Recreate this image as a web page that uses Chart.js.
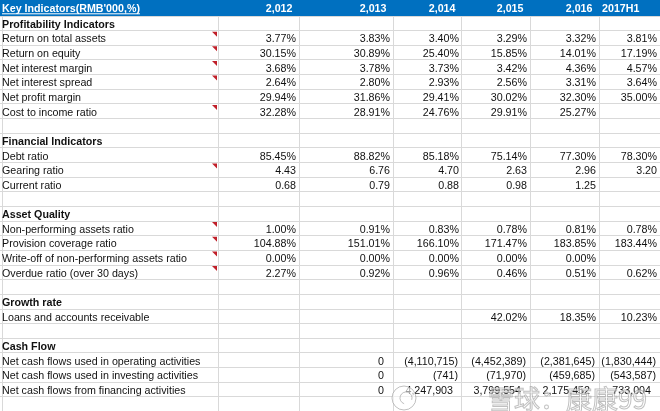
<!DOCTYPE html>
<html>
<head>
<meta charset="utf-8">
<script src="https://cdn.jsdelivr.net/npm/chart.js@4"></script>
<style>
    body { margin: 0; background: #fff; }
    canvas { display: block; }
</style>
</head>
<body>
<canvas id="sheet" width="660" height="411"></canvas>
<script>
// Table data
const title = "Key Indicators(RMB'000,%)";
const years = ['2,012', '2,013', '2,014', '2,015', '2,016', '2017H1'];
const sections = ['Profitability Indicators', 'Financial Indicators', 'Asset Quality', 'Growth rate', 'Cash Flow'];

const returnOnAssets = [3.77, 3.83, 3.40, 3.29, 3.32, 3.81];
const returnOnEquity = [30.15, 30.89, 25.40, 15.85, 14.01, 17.19];
const netInterestMargin = [3.68, 3.78, 3.73, 3.42, 4.36, 4.57];
const netInterestSpread = [2.64, 2.80, 2.93, 2.56, 3.31, 3.64];
const netProfitMargin = [29.94, 31.86, 29.41, 30.02, 32.30, 35.00];
const costToIncome = [32.28, 28.91, 24.76, 29.91, 25.27, null];

const debtRatio = [85.45, 88.82, 85.18, 75.14, 77.30, 78.30];
const gearingRatio = [4.43, 6.76, 4.70, 2.63, 2.96, 3.20];
const currentRatio = [0.68, 0.79, 0.88, 0.98, 1.25, null];

const npaRatio = [1.00, 0.91, 0.83, 0.78, 0.81, 0.78];
const provisionCoverage = [104.88, 151.01, 166.10, 171.47, 183.85, 183.44];
const writeOffRatio = [0.00, 0.00, 0.00, 0.00, 0.00, null];
const overdueRatio = [2.27, 0.92, 0.96, 0.46, 0.51, 0.62];

const loansGrowth = [null, null, null, 42.02, 18.35, 10.23];

const operatingCash = [null, 0, -4110715, -4452389, -2381645, -1830444];
const investingCash = [null, 0, -741, -71970, -459685, -543587];
const financingCash = [null, 0, 4247903, 3799554, 2175452, 733004];

// Sheet layout
const colWidths = [218, 81, 94, 69, 68, 69, 61];
const leftEdge = 2;
const rowH = 14.65, headerH = 16;
const headerBlue = '#0070c0';
const gridGray = '#d9d9d9';
const flagRed = '#c0202a';
const font = "'Liberation Sans', Arial, sans-serif";

const colEdges = [0];
colWidths.forEach(w => colEdges.push(colEdges[colEdges.length - 1] + w));

// rows: null = blank, string = section title, otherwise an indicator
const rows = [
    sections[0],
    ['Return on total assets', returnOnAssets, 'pct', true],
    ['Return on equity', returnOnEquity, 'pct', true],
    ['Net interest margin', netInterestMargin, 'pct', true],
    ['Net interest spread', netInterestSpread, 'pct', true],
    ['Net profit margin', netProfitMargin, 'pct', false],
    ['Cost to income ratio', costToIncome, 'pct', true],
    null,
    sections[1],
    ['Debt ratio', debtRatio, 'pct', false],
    ['Gearing ratio', gearingRatio, 'num', true],
    ['Current ratio', currentRatio, 'num', false],
    null,
    sections[2],
    ['Non-performing assets ratio', npaRatio, 'pct', true],
    ['Provision coverage ratio', provisionCoverage, 'pct', true],
    ['Write-off of non-performing assets ratio', writeOffRatio, 'pct', true],
    ['Overdue ratio (over 30 days)', overdueRatio, 'pct', true],
    null,
    sections[3],
    ['Loans and accounts receivable', loansGrowth, 'pct', false],
    null,
    sections[4],
    ['Net cash flows used in operating activities', operatingCash, 'acct', false],
    ['Net cash flows used in investing activities', investingCash, 'acct', false],
    ['Net cash flows from financing activities', financingCash, 'acct', false],
    null
];

function fmt(v, kind) {
    if (kind === 'pct') return v.toFixed(2) + '%';
    if (kind === 'num') return v.toFixed(2);
    const s = Math.abs(v).toLocaleString('en-US');
    return v < 0 ? '(' + s + ')' : s;
}

// one scatter dataset per sheet column, each point is a cell's text anchor
const labelCol = [{ x: colEdges[0] + leftEdge, y: 1, text: title, head: true, bold: true, align: 'left' }];
const yearCols = years.map((yr, j) => {
    const numeric = /^[\d,]+$/.test(yr);
    return [{
        x: numeric ? colEdges[j + 2] - 6.5 : colEdges[j + 1] + 3,
        y: 1, text: yr, head: true, bold: true, align: numeric ? 'right' : 'left'
    }];
});
const flags = [];

rows.forEach((row, i) => {
    const r = i + 1;
    if (row === null) return;
    if (typeof row === 'string') {
        labelCol.push({ x: colEdges[0] + leftEdge, y: r + 1, text: row, bold: true, align: 'left' });
        return;
    }
    const [label, values, kind, flagged] = row;
    labelCol.push({ x: colEdges[0] + leftEdge, y: r + 1, text: label, align: 'left' });
    if (flagged) flags.push(r);
    values.forEach((v, j) => {
        if (v === null) return;
        const pad = kind === 'acct' ? (v < 0 ? 4 : 9) : 3;
        yearCols[j].push({ x: colEdges[j + 2] - pad, y: r + 1, text: fmt(v, kind), align: 'right' });
    });
});

const sheetPlugin = {
    id: 'sheet',
    beforeDatasetsDraw(chart) {
        const { ctx, chartArea, scales } = chart;
        const hb = scales.y.getPixelForValue(1);
        ctx.save();
        ctx.fillStyle = headerBlue;
        ctx.fillRect(chartArea.left, chartArea.top, chartArea.right - chartArea.left, hb - chartArea.top);
        // comment markers
        ctx.fillStyle = flagRed;
        const fx = scales.x.getPixelForValue(colEdges[1]);
        flags.forEach(r => {
            const top = scales.y.getPixelForValue(r) + 1;
            ctx.beginPath();
            ctx.moveTo(fx - 6, top);
            ctx.lineTo(fx - 1, top);
            ctx.lineTo(fx - 1, top + 5);
            ctx.closePath();
            ctx.fill();
        });
        ctx.restore();
    },
    afterDatasetsDraw(chart) {
        const { ctx } = chart;
        ctx.save();
        chart.data.datasets.forEach((ds, di) => {
            const meta = chart.getDatasetMeta(di);
            meta.data.forEach((pt, i) => {
                const cell = ds.data[i];
                ctx.font = (cell.bold ? 'bold ' : '') + '10.7px ' + font;
                ctx.fillStyle = cell.head ? '#ffffff' : '#111111';
                ctx.textAlign = cell.align;
                ctx.textBaseline = 'alphabetic';
                const by = pt.y - (cell.head ? 4.3 : 3);
                ctx.fillText(cell.text, pt.x, by);
                if (cell.head && cell.text === title) {
                    const w = ctx.measureText(cell.text).width;
                    ctx.fillRect(pt.x, by + 1.6, w, 1);
                }
            });
        });

        // site watermark over the bottom right corner
        ctx.lineWidth = 1;
        ctx.strokeStyle = 'rgba(140,140,140,0.55)';
        ctx.fillStyle = 'rgba(255,255,255,0.6)';
        ctx.beginPath();
        ctx.arc(404, 398, 12, 0, Math.PI * 2);
        ctx.fill();
        ctx.stroke();
        ctx.beginPath();
        ctx.arc(406, 398, 6, Math.PI * 0.6, Math.PI * 2.1);
        ctx.stroke();
        ctx.font = "26px 'Noto Sans CJK SC', sans-serif";
        ctx.textAlign = 'left';
        ctx.fillText('雪球：康康99', 488, 409);
        ctx.strokeText('雪球：康康99', 488, 409);
        ctx.restore();
    }
};

const yMin = 1 - headerH / rowH;
const yMax = yMin + 411 / rowH;

const columnSets = [labelCol, ...yearCols].map((cells, i) => ({
    label: i === 0 ? 'Indicator' : years[i - 1],
    data: cells,
    pointRadius: 0,
    pointHoverRadius: 0,
    showLine: false
}));

new Chart(document.getElementById('sheet'), {
    type: 'scatter',
    data: { datasets: columnSets },
    options: {
        responsive: false,
        animation: false,
        events: [],
        layout: { padding: 0 },
        plugins: { legend: { display: false }, tooltip: { enabled: false } },
        scales: {
            x: {
                type: 'linear', min: 0, max: colEdges[colEdges.length - 1],
                ticks: { display: false },
                border: { display: false },
                grid: { color: gridGray, drawTicks: false },
                afterBuildTicks: axis => {
                    axis.ticks = [leftEdge, ...colEdges.slice(1, -1)].map(v => ({ value: v }));
                }
            },
            y: {
                type: 'linear', min: yMin, max: yMax, reverse: true,
                ticks: { display: false },
                border: { display: false },
                grid: { color: gridGray, drawTicks: false },
                afterBuildTicks: axis => {
                    const t = [];
                    for (let r = 1; r <= rows.length + 1; r++) t.push({ value: r });
                    axis.ticks = t;
                }
            }
        }
    },
    plugins: [sheetPlugin]
});
</script>
</body>
</html>
